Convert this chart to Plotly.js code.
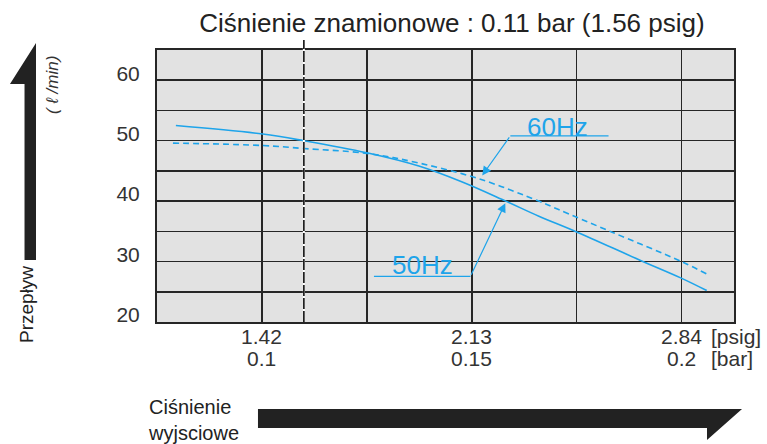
<!DOCTYPE html>
<html><head><meta charset="utf-8">
<script src="https://cdn.plot.ly/plotly-3.0.1.min.js"></script>
<style>html,body{margin:0;padding:0;background:#fff;}#chart{width:767px;height:444px;}</style>
</head><body><div id="chart"></div>
<script>
// ---- data (x: outlet pressure in bar, y: flow in l/min) ----
const pressure50Hz = [0.0795, 0.1002, 0.110, 0.125, 0.1374, 0.1476, 0.1581, 0.166, 0.175, 0.1905, 0.1998, 0.206];
const flow50Hz     = [52.5,   51.1,   50.0,  48.0,  45.8,   43.2,   40.0,   37.5,  34.9,  30.1,   27.3,   25.2];
const pressure60Hz = [0.0788, 0.1002, 0.110, 0.125, 0.1374, 0.1517, 0.166, 0.1707, 0.1833, 0.200, 0.2064];
const flow60Hz     = [49.6,   49.2,   48.7,  47.9,  46.3,   43.7,   40.0,  38.6,   34.9,   30.0,  27.8];
const xTickVals  = [0.1, 0.15, 0.2];
const psigLabels = ['1.42', '2.13', '2.84'];
const barLabels  = ['0.1', '0.15', '0.2'];
const yTickVals  = [20, 30, 40, 50, 60];
const nominalBar = 0.11;
const titleText  = 'Ciśnienie znamionowe : 0.11 bar (1.56 psig)';

// ---- geometry helpers ----
const W = 767, H = 444, M = {l:157, r:33, t:50, b:122};
const pw = W - M.l - M.r, ph = H - M.t - M.b;
const PX = x => (x - M.l) / pw;
const PY = y => (H - M.b - y) / ph;
const path = pts => 'M' + pts.map(p => PX(p[0]).toFixed(4) + ',' + PY(p[1]).toFixed(4)).join(' L') + ' Z';

const blue = '#1ea4ea';
const grid = '#262626';
const fontN = 'Liberation Sans Narrow, Arial Narrow, Liberation Sans, Arial, sans-serif';
const fontR = 'Liberation Sans, Arial, sans-serif';
const tickFont = {family:fontN, size:21, color:'#333'};

const traces = [
  {x: pressure50Hz, y: flow50Hz, type:'scatter', mode:'lines', name:'50Hz',
   line:{color:blue, width:1.6, shape:'spline'}, hoverinfo:'skip'},
  {x: pressure60Hz, y: flow60Hz, type:'scatter', mode:'lines', name:'60Hz',
   line:{color:blue, width:1.6, shape:'spline', dash:'6px,4px'}, hoverinfo:'skip'}
];

const annotations = [];
// two rows of x tick labels (psig above, bar below)
xTickVals.forEach((v, i) => {
  annotations.push({x: v, xref:'x', y: PY(336), yref:'paper', text: psigLabels[i], showarrow:false,
    xanchor:'center', yanchor:'middle', font:tickFont});
  annotations.push({x: v, xref:'x', y: PY(358), yref:'paper', text: barLabels[i], showarrow:false,
    xanchor:'center', yanchor:'middle', font:tickFont});
});
annotations.push({x: PX(709), xref:'paper', y: PY(336), yref:'paper', text:'[psig]', showarrow:false,
  xanchor:'left', yanchor:'middle', font:tickFont});
annotations.push({x: PX(709), xref:'paper', y: PY(358), yref:'paper', text:'[bar]', showarrow:false,
  xanchor:'left', yanchor:'middle', font:tickFont});
// series labels with leader arrows
annotations.push({x:0.1705, y:52.3, xref:'x', yref:'y', text:'60Hz', showarrow:false,
  xanchor:'center', yanchor:'middle', font:{family:fontR, size:26, color:blue}});
annotations.push({x:0.1383, y:29.5, xref:'x', yref:'y', text:'50Hz', showarrow:false,
  xanchor:'center', yanchor:'middle', font:{family:fontR, size:26, color:blue}});
annotations.push({x:0.1525, y:44.25, xref:'x', yref:'y', ax:0.1592, ay:50.8, axref:'x', ayref:'y',
  text:'', showarrow:true, arrowhead:2, arrowsize:1.5, arrowwidth:1.2, arrowcolor:blue, standoff:0});
annotations.push({x:0.1580, y:39.66, xref:'x', yref:'y', ax:0.1497, ay:27.55, axref:'x', ayref:'y',
  text:'', showarrow:true, arrowhead:2, arrowsize:1.5, arrowwidth:1.2, arrowcolor:blue, standoff:0});
// axis captions
annotations.push({x:PX(26), y:PY(305), xref:'paper', yref:'paper', text:'Przepływ', textangle:-90,
  showarrow:false, xanchor:'center', yanchor:'middle', font:{family:fontN, size:19, color:'#222'}});
annotations.push({x:PX(52), y:PY(85), xref:'paper', yref:'paper', text:'<i>( ℓ /min)</i>', textangle:-90,
  showarrow:false, xanchor:'center', yanchor:'middle', font:{family:fontN, size:17, color:'#333'}});
annotations.push({x:PX(146), y:PY(420), xref:'paper', yref:'paper', text:'Ciśnienie<br>wyjsciowe', align:'left',
  showarrow:false, xanchor:'left', yanchor:'middle', font:{family:fontN, size:20, color:'#222'}});

const shapes = [
  {type:'line', xref:'x', yref:'paper', x0:nominalBar, x1:nominalBar, y0:0, y1:PY(40), line:{color:'#ffffff', width:2}},
  {type:'line', xref:'x', yref:'paper', x0:nominalBar, x1:nominalBar, y0:0, y1:PY(40), line:{color:'#111', width:1.6, dash:'11px,2px'}},
  {type:'line', xref:'x', yref:'y', x0:0.1592, x1:0.1826, y0:50.8, y1:50.8, line:{color:blue, width:1.2}},
  {type:'line', xref:'x', yref:'y', x0:0.1267, x1:0.1497, y0:27.55, y1:27.55, line:{color:blue, width:1.2}},
  {type:'path', xref:'paper', yref:'paper', path: path([[36,43],[36,260],[24.5,260],[24.5,84],[10,84]]),
   fillcolor:'#222', line:{width:0}},
  {type:'path', xref:'paper', yref:'paper', path: path([[258,409],[742,409],[707,440],[707,428],[258,428]]),
   fillcolor:'#222', line:{width:0}}
];

const layout = {
  width:W, height:H, margin:M, paper_bgcolor:'#fff', plot_bgcolor:'#e2e2e2', showlegend:false,
  title:{text:titleText, font:{family:fontR, size:26, color:'#222'}, xref:'container', yref:'container',
         x:452/W, xanchor:'center', y:1-23/H, yanchor:'middle'},
  xaxis:{range:[0.075, 0.2125], tickvals:xTickVals, showticklabels:false, showgrid:true, gridcolor:grid, gridwidth:1.6,
         zeroline:false, showline:true, mirror:true, linecolor:grid, linewidth:2, ticks:'',
         minor:{tick0:0.1, dtick:0.025, showgrid:true, gridcolor:grid, gridwidth:1.6, ticks:''}},
  yaxis:{range:[20, 65], tickvals:yTickVals, showgrid:true, gridcolor:grid, gridwidth:1.6,
         zeroline:false, showline:true, mirror:true, linecolor:grid, linewidth:2, ticks:'',
         ticklabelstandoff:11, ticklabelshift:-7, tickfont:tickFont,
         minor:{tick0:20, dtick:5, showgrid:true, gridcolor:grid, gridwidth:1.6, ticks:''}},
  shapes, annotations
};
Plotly.newPlot('chart', traces, layout, {staticPlot:true, displayModeBar:false});
</script></body></html>
